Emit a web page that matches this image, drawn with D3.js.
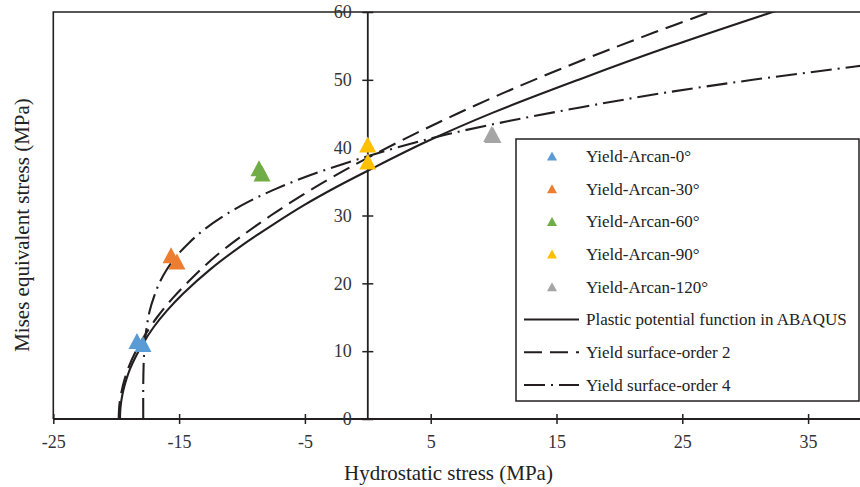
<!DOCTYPE html>
<html>
<head>
<meta charset="utf-8">
<script src="https://cdn.jsdelivr.net/npm/d3@7"></script>
<style>
  html, body { margin: 0; padding: 0; background: #fff; }
  svg { display: block; font-family: "Liberation Serif", "Times New Roman", serif; }
</style>
</head>
<body>
<svg id="chart" width="860" height="487"></svg>
<script>
// Tick values
const xTicks = [-25, -15, -5, 5, 15, 25, 35];
const yTicks = [0, 10, 20, 30, 40, 50, 60];

// Measured yield points (hydrostatic stress, Mises stress) per loading angle
const arcan0   = [[-18.35, 11.5], [-17.87, 11.06]];
const arcan30  = [[-15.64, 24.15], [-15.17, 23.22]];
const arcan60  = [[-8.65, 36.96], [-8.41, 36.2]];
const arcan90  = [[-0.01, 40.47], [0.0, 37.96]];
const arcan120 = [[9.85, 42.0], [9.95, 41.85]];

// Plastic potential function in ABAQUS
const potentialCurve = [
  [-19.7, 0], [-19.68, 1.2], [-19.6, 2.6], [-19.45, 4.1], [-19.2, 5.8], [-18.9, 7.4],
  [-18.5, 9.0], [-17.85, 11.2], [-17.0, 13.6], [-16.0, 15.9], [-14.67, 18.5],
  [-12.5, 22.1], [-10.0, 25.6], [-7.5, 28.7], [-5.0, 31.6], [-2.5, 34.2], [0, 36.6],
  [4.68, 40.9], [10.0, 45.2], [16.87, 50.1], [24.0, 54.9], [32.0, 59.9], [33.5, 60.8]
];

// Yield surface, order 2
const order2Curve = [
  [-19.8, 0], [-19.75, 2], [-19.58, 4], [-19.31, 6], [-18.93, 8], [-18.44, 10],
  [-17.84, 12], [-16.75, 15], [-15.42, 18], [-13.85, 21], [-12.1, 24], [-10.0, 27],
  [-7.71, 30], [-5.21, 33], [-2.5, 36], [0.17, 38.67], [3.7, 42], [7.1, 45],
  [10.7, 48], [14.54, 51], [18.56, 54], [22.8, 57], [27.2, 60], [28.7, 61]
];

// Yield surface, order 4
const order4Curve = [
  [-17.85, 0], [-17.85, 5], [-17.82, 8], [-17.77, 10], [-17.685, 12], [-17.54, 14],
  [-17.33, 16], [-17.0, 18], [-16.58, 20], [-15.99, 22], [-15.21, 24], [-14.2, 26],
  [-12.96, 28], [-11.41, 30], [-9.51, 32], [-7.22, 34], [-4.49, 36], [-1.27, 38],
  [2.3, 40], [6.4, 42], [11.4, 44], [17.1, 46], [23.3, 48], [30.6, 50], [38.9, 52], [40.5, 52.4]
];

const pointSeries = [
  { name: "Yield-Arcan-0\u00B0",   color: "#5B9BD5", data: arcan0 },
  { name: "Yield-Arcan-30\u00B0",  color: "#ED7D31", data: arcan30 },
  { name: "Yield-Arcan-60\u00B0",  color: "#70AD47", data: arcan60 },
  { name: "Yield-Arcan-90\u00B0",  color: "#FFC000", data: arcan90 },
  { name: "Yield-Arcan-120\u00B0", color: "#A5A5A5", data: arcan120 }
];
const lineSeries = [
  { name: "Plastic potential function in ABAQUS", dash: null,       data: potentialCurve },
  { name: "Yield surface-order 2",                dash: "18,8",     data: order2Curve },
  { name: "Yield surface-order 4",                dash: "21,6,2,6", data: order4Curve }
];

(function draw() {
  const svg = d3.select("#chart");
  const ink = "#231f20";

  const pLeft = 53.3, pTop = 12, pBottom = 419, pRight = 871;
  const x = d3.scaleLinear().domain([-25, 40]).range([pLeft, pRight]);
  const y = d3.scaleLinear().domain([0, 60]).range([pBottom, pTop]);

  svg.append("defs").append("clipPath").attr("id", "plotClip")
    .append("rect").attr("x", pLeft).attr("y", pTop)
    .attr("width", pRight - pLeft).attr("height", pBottom - pTop);

  // Plot frame (left and top edges)
  svg.append("path")
    .attr("d", `M${pLeft},${pBottom} L${pLeft},${pTop} L${pRight},${pTop}`)
    .attr("fill", "none").attr("stroke", ink).attr("stroke-width", 1.6);

  // Curves
  const line = d3.line().x(d => x(d[0])).y(d => y(d[1])).curve(d3.curveCatmullRom.alpha(0.5));
  const curves = svg.append("g").attr("clip-path", "url(#plotClip)");
  lineSeries.forEach(s => {
    curves.append("path")
      .datum(s.data)
      .attr("d", line)
      .attr("fill", "none")
      .attr("stroke", ink)
      .attr("stroke-width", 2.1)
      .attr("stroke-dasharray", s.dash);
  });

  const plain = d => String(d);

  // X axis
  const xAxis = svg.append("g")
    .attr("transform", `translate(0,${pBottom})`)
    .call(d3.axisBottom(x).tickValues(xTicks).tickFormat(plain).tickSizeOuter(0));
  xAxis.select(".domain").remove();
  xAxis.selectAll(".tick line").attr("y1", -5).attr("y2", 5).attr("stroke", ink).attr("stroke-width", 1.5);
  xAxis.selectAll(".tick text").attr("y", 16).attr("font-size", 18)
    .attr("font-family", "Liberation Serif").attr("fill", "#333");
  svg.append("line").attr("x1", pLeft).attr("x2", 860).attr("y1", pBottom).attr("y2", pBottom)
    .attr("stroke", ink).attr("stroke-width", 1.8);

  // Y axis, placed at zero hydrostatic stress
  const yAxis = svg.append("g")
    .attr("transform", `translate(${x(0)},0)`)
    .call(d3.axisLeft(y).tickValues(yTicks).tickFormat(plain).tickSizeOuter(0));
  yAxis.select(".domain").remove();
  yAxis.selectAll(".tick line").attr("x1", -5.5).attr("x2", 5.5).attr("stroke", ink).attr("stroke-width", 1.5);
  yAxis.selectAll(".tick text").attr("x", -16).attr("font-size", 18)
    .attr("font-family", "Liberation Serif").attr("fill", "#333");
  svg.append("line").attr("x1", x(0)).attr("x2", x(0)).attr("y1", pTop).attr("y2", pBottom)
    .attr("stroke", ink).attr("stroke-width", 1.8);

  // Triangle markers
  const tri = (w, h) => `M0,${-h / 2}L${w / 2},${h / 2}L${-w / 2},${h / 2}Z`;
  pointSeries.forEach(s => {
    svg.append("g").selectAll("path").data(s.data).join("path")
      .attr("d", tri(17, 16))
      .attr("transform", d => `translate(${x(d[0])},${y(d[1])})`)
      .attr("fill", s.color);
  });

  // Axis titles
  svg.append("text")
    .attr("x", 448.5).attr("y", 480)
    .attr("text-anchor", "middle").attr("font-size", 21).attr("fill", "#222")
    .text("Hydrostatic stress (MPa)");
  svg.append("text")
    .attr("transform", "translate(29,225) rotate(-90)")
    .attr("text-anchor", "middle").attr("font-size", 21).attr("fill", "#222")
    .text("Mises equivalent stress (MPa)");

  // Legend
  const legend = svg.append("g");
  legend.append("rect")
    .attr("x", 516).attr("y", 139).attr("width", 343).attr("height", 262)
    .attr("fill", "#fff").attr("stroke", ink).attr("stroke-width", 1.5);
  const rowY = i => 156 + i * 32.7;
  pointSeries.forEach((s, i) => {
    legend.append("path").attr("d", tri(10, 9))
      .attr("transform", `translate(552,${rowY(i)})`).attr("fill", s.color);
    legend.append("text").attr("x", 586).attr("y", rowY(i)).attr("dy", "0.35em")
      .attr("font-size", 17).attr("fill", "#222").text(s.name);
  });
  lineSeries.forEach((s, j) => {
    const i = j + pointSeries.length;
    legend.append("line").attr("x1", 524).attr("x2", 579).attr("y1", rowY(i)).attr("y2", rowY(i))
      .attr("stroke", ink).attr("stroke-width", 2).attr("stroke-dasharray", s.dash);
    legend.append("text").attr("x", 586).attr("y", rowY(i)).attr("dy", "0.35em")
      .attr("font-size", 17).attr("fill", "#222").text(s.name);
  });
})();
</script>
</body>
</html>
